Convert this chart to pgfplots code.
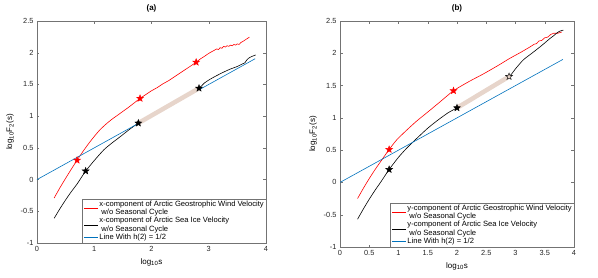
\documentclass[border=0pt]{standalone}
\usepackage{fontspec}
\setmainfont{Liberation Sans}
\usepackage{pgfplots}
\pgfplotsset{compat=1.18}
\definecolor{mblue}{RGB}{0,114,189}
\definecolor{beige}{RGB}{231,213,203}
\pgfdeclareplotmark{pstar}{%
  \pgfpathmoveto{\pgfpointpolar{90}{\pgfplotmarksize}}%
  \pgfpathlineto{\pgfpointpolar{126}{0.42\pgfplotmarksize}}%
  \pgfpathlineto{\pgfpointpolar{162}{\pgfplotmarksize}}%
  \pgfpathlineto{\pgfpointpolar{198}{0.42\pgfplotmarksize}}%
  \pgfpathlineto{\pgfpointpolar{234}{\pgfplotmarksize}}%
  \pgfpathlineto{\pgfpointpolar{270}{0.42\pgfplotmarksize}}%
  \pgfpathlineto{\pgfpointpolar{306}{\pgfplotmarksize}}%
  \pgfpathlineto{\pgfpointpolar{342}{0.42\pgfplotmarksize}}%
  \pgfpathlineto{\pgfpointpolar{18}{\pgfplotmarksize}}%
  \pgfpathlineto{\pgfpointpolar{54}{0.42\pgfplotmarksize}}%
  \pgfpathclose
  \pgfusepathqfillstroke}
\pgfplotsset{
  mstyle/.style={
    scale only axis,
    anchor=south west,
    axis line style={black!55, line width=0.4pt},
    tick style={black!55, line width=0.4pt},
    tick align=inside,
    major tick length=2.5pt,
    ymin=-1, ymax=2.5, xmin=0, xmax=4,
    ytick={-1,-0.5,0,0.5,1,1.5,2,2.5},
    /pgf/number format/assume math mode=true,
    ticklabel style={font=\fontsize{7.4}{8.5}\selectfont, text=black!85},
    label style={font=\fontsize{8}{9.5}\selectfont},
    title style={font=\fontsize{8}{9.5}\selectfont\bfseries, yshift=-1pt},
    xlabel={log\textsubscript{10}s},
    ylabel={log\textsubscript{10}F\textsubscript{2}(s)},
    legend cell align=left,
    legend image code/.code={\draw[#1, line width=0.9pt] (0pt,0pt) -- (14pt,0pt);},
    legend style={at={(1,0)}, anchor=south east, draw=black!55, line width=0.4pt,
      font=\fontsize{7.6}{8.6}\selectfont, nodes={align=left, inner sep=0.7pt},
      inner sep=1.3pt, row sep=-0.5pt},
    every axis plot/.append style={line width=0.6pt},
  }
}
\begin{document}
\begin{tikzpicture}
\path[use as bounding box] (0,0) rectangle (598pt,277pt);
% ---------------- (a) ----------------
\begin{axis}[mstyle, at={(37pt,34pt)}, width=229pt, height=222pt,
  xtick={0,1,2,3,4}, title={(a)}]
\addplot[red, no marks, smooth, tension=0.4] coordinates {
(0.30,-0.29) (0.40,-0.13) (0.50,0.02) (0.60,0.165) (0.70,0.305) (0.80,0.44)
(0.90,0.565) (1.00,0.68) (1.10,0.785) (1.20,0.87) (1.30,0.945) (1.40,1.01)
(1.50,1.075) (1.60,1.14) (1.70,1.21) (1.80,1.28) (1.90,1.34) (2.00,1.40)
(2.10,1.45) (2.20,1.51) (2.30,1.56) (2.40,1.62) (2.50,1.68) (2.60,1.74)
(2.70,1.80) (2.78,1.85) (2.85,1.90) (2.92,1.94) (3.00,1.99) (3.06,2.02)
(3.10,2.04) (3.14,2.06) (3.17,2.05) (3.20,2.08) (3.23,2.07) (3.26,2.10)
(3.29,2.09) (3.32,2.11) (3.35,2.10) (3.38,2.12) (3.41,2.11) (3.44,2.13)
(3.47,2.12) (3.50,2.14) (3.53,2.13) (3.56,2.16) (3.60,2.18) (3.65,2.21)
(3.71,2.245)};
\addlegendentry{x-component of Arctic Geostrophic Wind Velocity\\\hspace*{2pt}w/o Seasonal Cycle}
\addplot[black, no marks, smooth, tension=0.4] coordinates {
(0.30,-0.61) (0.40,-0.46) (0.50,-0.32) (0.60,-0.19) (0.70,-0.07) (0.78,0.04)
(0.85,0.135) (1.00,0.30) (1.165,0.467) (1.30,0.57) (1.455,0.677) (1.60,0.78)
(1.77,0.89) (2.00,1.00) (2.30,1.16) (2.60,1.32) (2.83,1.44) (2.92,1.52)
(3.02,1.58) (3.14,1.64) (3.25,1.69) (3.37,1.74) (3.49,1.78) (3.58,1.82)
(3.63,1.84) (3.66,1.88) (3.69,1.91) (3.75,1.94) (3.82,1.965)};
\addlegendentry{x-component of Arctic Sea Ice Velocity\\\hspace*{2pt}w/o Seasonal Cycle}
\addplot[mblue, no marks] coordinates {(0,0) (3.81,1.905)};
\addlegendentry{Line With h(2) = 1/2}
\addplot[beige, line width=4.5pt, no marks, forget plot] coordinates {(1.77,0.89) (2.83,1.44)};
\addplot[only marks, mark=pstar, mark size=3.6pt, red, mark options={fill=red, line width=0.4pt}, forget plot]
  coordinates {(0.70,0.305) (1.80,1.28) (2.78,1.85)};
\addplot[only marks, mark=pstar, mark size=3.6pt, black, mark options={fill=black, line width=0.4pt}, forget plot]
  coordinates {(0.85,0.135) (1.77,0.89) (2.83,1.44)};
\end{axis}
% ---------------- (b) ----------------
\begin{axis}[mstyle, at={(340pt,30pt)}, width=234pt, height=226pt,
  xtick={0,0.5,1,1.5,2,2.5,3,3.5,4}, title={(b)}]
\addplot[red, no marks, smooth, tension=0.4] coordinates {
(0.30,-0.25) (0.40,-0.09) (0.50,0.06) (0.60,0.20) (0.70,0.33) (0.84,0.51)
(0.97,0.66) (1.14,0.81) (1.31,0.95) (1.50,1.09) (1.70,1.24) (1.94,1.42)
(2.20,1.56) (2.45,1.68) (2.70,1.81) (2.90,1.92) (3.10,2.02) (3.25,2.10)
(3.32,2.14) (3.36,2.15) (3.40,2.19) (3.45,2.20) (3.50,2.24) (3.55,2.25)
(3.60,2.29) (3.65,2.31) (3.72,2.31) (3.79,2.33)};
\addlegendentry{y-component of Arctic Geostrophic Wind Velocity\\\hspace*{2pt}w/o Seasonal Cycle}
\addplot[black, no marks, smooth, tension=0.4] coordinates {
(0.30,-0.57) (0.40,-0.41) (0.50,-0.26) (0.60,-0.12) (0.70,0.01) (0.84,0.20)
(1.00,0.39) (1.15,0.54) (1.31,0.68) (1.50,0.84) (1.68,0.97) (1.85,1.08)
(2.00,1.155) (2.30,1.32) (2.60,1.48) (2.89,1.64) (3.00,1.76) (3.13,1.895)
(3.25,1.98) (3.35,2.05) (3.42,2.10) (3.50,2.16) (3.59,2.23) (3.65,2.27)
(3.70,2.31) (3.75,2.34) (3.82,2.36)};
\addlegendentry{y-component of Arctic Sea Ice Velocity\\\hspace*{2pt}w/o Seasonal Cycle}
\addplot[mblue, no marks] coordinates {(0,0) (3.81,1.905)};
\addlegendentry{Line With h(2) = 1/2}
\addplot[beige, line width=4.5pt, no marks, forget plot] coordinates {(2.00,1.155) (2.89,1.64)};
\addplot[only marks, mark=pstar, mark size=3.6pt, red, mark options={fill=red, line width=0.4pt}, forget plot]
  coordinates {(0.84,0.51) (1.94,1.42)};
\addplot[only marks, mark=pstar, mark size=3.6pt, black, mark options={fill=black, line width=0.4pt}, forget plot]
  coordinates {(0.84,0.20) (2.00,1.155)};
\addplot[only marks, mark=pstar, mark size=3.6pt, black, mark options={fill=beige, line width=0.4pt}, forget plot]
  coordinates {(2.89,1.64)};
\end{axis}
\end{tikzpicture}
\end{document}
